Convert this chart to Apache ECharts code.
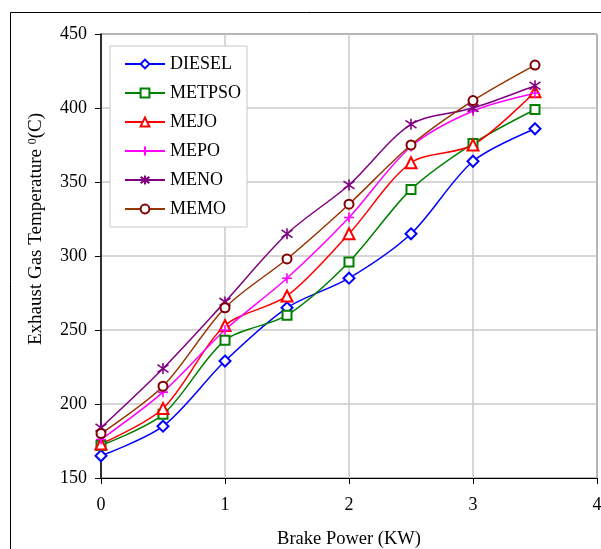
<!DOCTYPE html>
<html><head><meta charset="utf-8">
<script src="https://cdn.jsdelivr.net/npm/echarts@6/dist/echarts.min.js"></script>
<style>html,body{margin:0;padding:0;background:#fff}#c{width:601px;height:549px}</style>
</head><body><div id="c"></div>
<script>
var brakePower = [0, 0.5, 1, 1.5, 2, 2.5, 3, 3.5];
var diesel = [165, 185, 229, 265, 285, 315, 364, 386];
var metpso = [172, 193, 243, 260, 296, 345, 376, 399];
var mejo   = [173, 197, 253, 273, 315, 363, 375, 411];
var mepo   = [176, 208, 250, 285, 326, 374, 398, 410];
var meno   = [184, 224, 269, 315, 348, 389, 400, 415];
var memo   = [180, 212, 265, 298, 335, 375, 405, 429];
var xTicks = [0, 1, 2, 3, 4];
var yTicks = [150, 200, 250, 300, 350, 400, 450];

var FONT = '"Liberation Serif", "Times New Roman", serif';
function pairs(v) { return brakePower.map(function (x, i) { return [x, v[i]]; }); }
var plusPath = 'path://M5,0 L5,10 M0,5 L10,5';
var starPath = 'path://M5,0 L5,10 M0.7,1.5 L9.3,8.5 M0.7,8.5 L9.3,1.5';

function mk(name, data, color, symbol, size, mcolor, isPath) {
  return {
    name: name, type: 'line', data: pairs(data), smooth: 0.3,
    symbol: symbol, symbolSize: size, showSymbol: true,
    lineStyle: { color: color, width: 1.5 },
    itemStyle: isPath ? { color: mcolor, borderColor: mcolor, borderWidth: 1.6 }
                      : { color: mcolor, borderWidth: 1.6 },
    emphasis: { disabled: true }, animation: false
  };
}

var chart = echarts.init(document.getElementById('c'));
chart.setOption({
  animation: false,
  textStyle: { fontFamily: FONT },
  graphic: [
    { type: 'rect', shape: { x: 10.5, y: 12.5, width: 620, height: 560 },
      style: { fill: 'none', stroke: '#000', lineWidth: 1 }, z: -10 },
    { type: 'text', x: 36, y: 229, rotation: Math.PI / 2,
      style: { text: 'Exhaust Gas Temperature {s|0}(C)', fontFamily: FONT, fontSize: 19, fill: '#000',
        align: 'center', verticalAlign: 'middle',
        rich: { s: { fontSize: 12, verticalAlign: 'top', fontFamily: FONT, fill: '#000' } } } }
  ],
  grid: { left: 101, top: 34, right: 4, bottom: 71, show: true, borderColor: '#000', borderWidth: 1,
    backgroundColor: 'transparent', containLabel: false, outerBoundsMode: 'none' },
  legend: {
    orient: 'vertical', left: 110, top: 46,
    padding: [9, 6, 9, 14], itemGap: 11, itemWidth: 40, itemHeight: 11,
    backgroundColor: '#fff', borderColor: '#c8c8c8', borderWidth: 1,
    textStyle: { fontFamily: FONT, fontSize: 18, color: '#000' },
    data: ['DIESEL', 'METPSO', 'MEJO', 'MEPO', 'MENO', 'MEMO']
  },
  xAxis: {
    type: 'value', min: 0, max: 4, interval: 1,
    name: 'Brake Power (KW)', nameLocation: 'middle', nameGap: 52,
    nameTextStyle: { fontFamily: FONT, fontSize: 18.5, color: '#000' },
    axisLine: { lineStyle: { color: '#000', width: 1 } },
    axisTick: { show: true, length: 6, lineStyle: { color: '#000' } },
    axisLabel: { fontFamily: FONT, fontSize: 18, color: '#000', margin: 18,
      formatter: function (v) { return xTicks.indexOf(v) >= 0 ? String(v) : ''; } },
    splitLine: { show: true, lineStyle: { color: '#c8c8c8', width: 1.5 } }
  },
  yAxis: {
    type: 'value', min: 150, max: 450, interval: 50,
    axisLine: { show: true, lineStyle: { color: '#000', width: 1.5 } },
    axisTick: { show: true, length: 6, lineStyle: { color: '#000' } },
    axisLabel: { fontFamily: FONT, fontSize: 18, color: '#000', margin: 14,
      formatter: function (v) { return yTicks.indexOf(v) >= 0 ? String(v) : ''; } },
    splitLine: { show: true, lineStyle: { color: '#c8c8c8', width: 1.5 } }
  },
  series: [
    mk('DIESEL', diesel, '#0000ff', 'emptyDiamond', 11, '#0000ff'),
    mk('METPSO', metpso, '#008000', 'emptyRect', 9, '#008000'),
    mk('MEJO', mejo, '#ff0000', 'emptyTriangle', 11, '#ff0000'),
    mk('MEPO', mepo, '#ff00ff', plusPath, 10, '#ff00ff', true),
    mk('MENO', meno, '#800080', starPath, 11, '#800080', true),
    mk('MEMO', memo, '#993300', 'emptyCircle', 9, '#800000')
  ]
});
</script></body></html>
